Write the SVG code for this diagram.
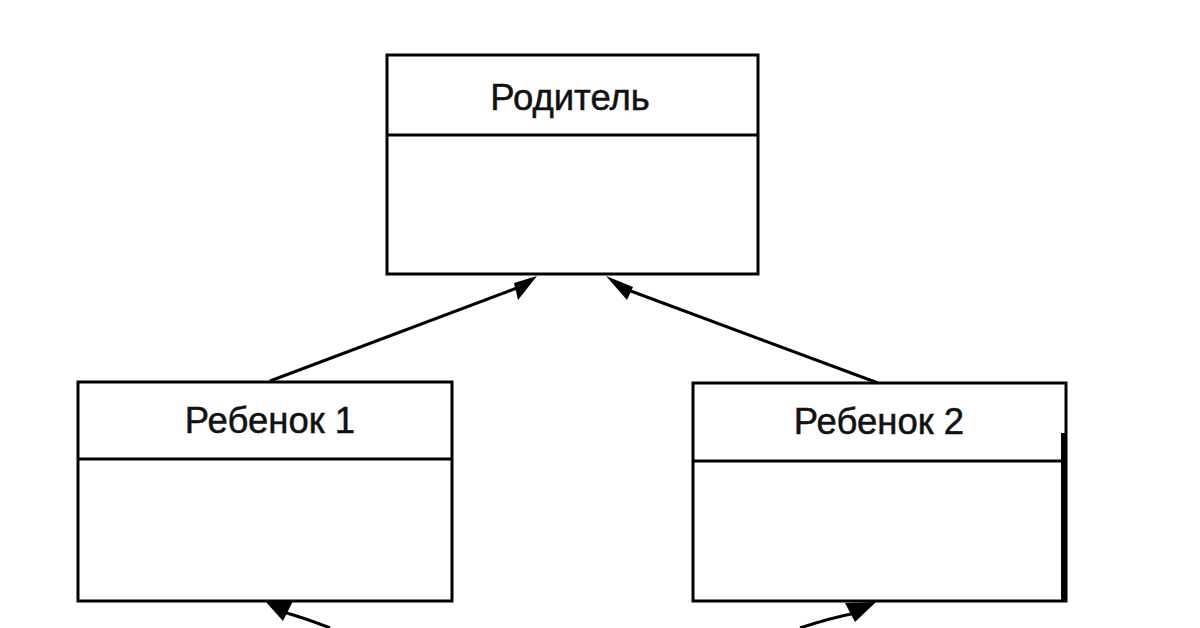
<svg xmlns="http://www.w3.org/2000/svg" width="1200" height="628" viewBox="0 0 1200 628">
<style>
.box{fill:#fff;stroke:#000;stroke-width:3}
.div{stroke:#000;stroke-width:3}
.lbl{font-family:"Liberation Sans",Arial,sans-serif;font-size:36.5px;fill:#111;stroke:#111;stroke-width:0.5;text-anchor:middle}
.ln{stroke:#000;stroke-width:3;fill:none}
.hd{fill:#000}
</style>
<rect width="1200" height="628" fill="#fff"/>
<g id="parent">
<rect class="box" x="387" y="55" width="371" height="219"/>
<line class="div" x1="387" y1="135" x2="758" y2="135"/>
<text class="lbl" x="570" y="110">Родитель</text>
</g>
<g id="child1">
<rect class="box" x="78" y="382" width="374" height="219"/>
<line class="div" x1="78" y1="459" x2="452" y2="459"/>
<text class="lbl" x="270" y="433">Ребенок 1</text>
</g>
<g id="child2">
<rect class="box" x="693" y="383" width="373" height="218"/>
<line class="div" x1="693" y1="461" x2="1066" y2="461"/>
<line x1="1064" y1="433" x2="1064" y2="601" stroke="#000" stroke-width="6"/>
<text class="lbl" x="879" y="434">Ребенок 2</text>
</g>
<g id="connectors">
<line class="ln" x1="270" y1="381" x2="522" y2="286"/>
<polygon class="hd" points="537,276 514,283 518,300"/>
<line class="ln" x1="878" y1="383" x2="620" y2="287"/>
<polygon class="hd" points="606,276 633,287 627,300"/>
<path class="ln" d="M283,612 Q305,618 330,628"/>
<polygon class="hd" points="265,601 293,601 283,621"/>
<path class="ln" d="M856,613 Q830,618 800,628"/>
<polygon class="hd" points="845,603 876,602 855,622"/>
</g>
</svg>
